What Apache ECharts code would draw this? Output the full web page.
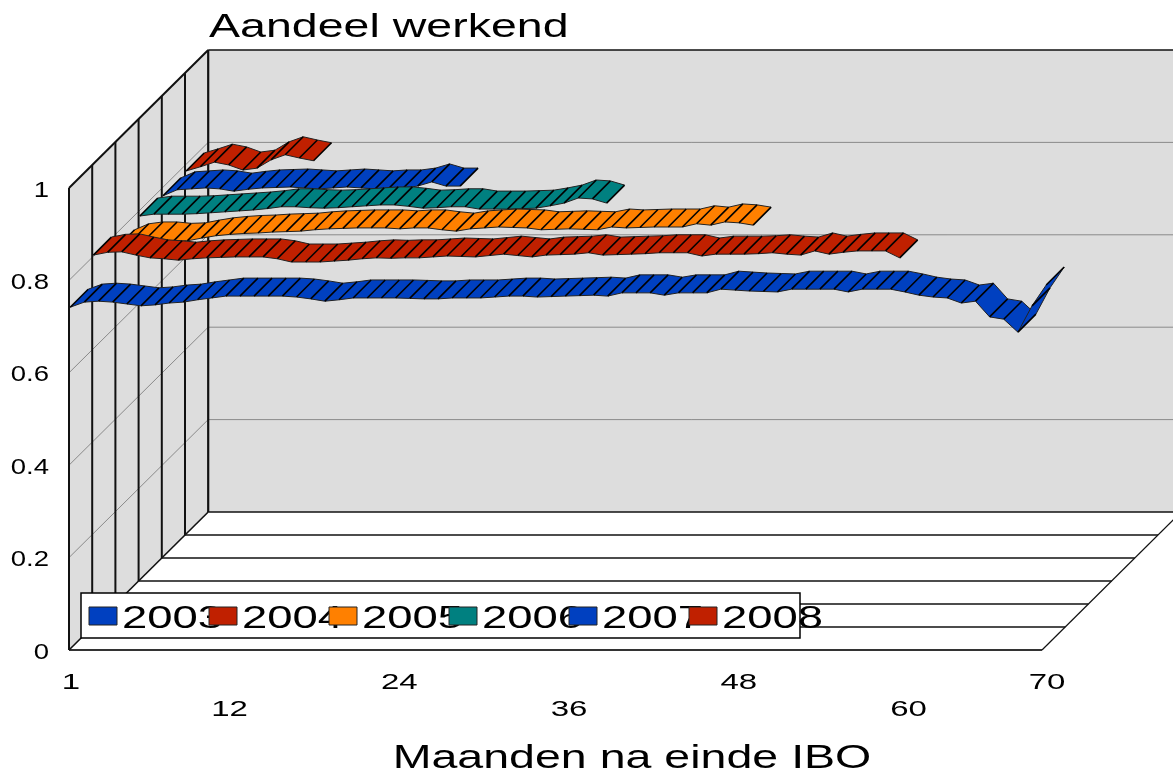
<!DOCTYPE html>
<html><head><meta charset="utf-8">
<style>html,body{margin:0;padding:0;background:#fff}#c{width:1173px;height:770px}</style>
<script src="https://cdn.jsdelivr.net/npm/echarts@6/dist/echarts.min.js"></script>
</head><body><div id="c"></div>
<script>
const years = ['2003','2004','2005','2006','2007','2008'];
const colors = ['#0040C0','#C02000','#FF8000','#008080','#0040C0','#C02000'];
const xTicks = [1,12,24,36,48,60,70];
const yTicks = [0,0.2,0.4,0.6,0.8,1];
const titleText = 'Aandeel werkend';
const xName = 'Maanden na einde IBO';

const v2003 = [.742,.753,.755,.753,.749,.745,.747,.751,.753,.758,.762,.766,.766,.766,.766,.766,.764,.760,.755,.758,.762,.762,.762,.762,.761,.760,.760,.762,.762,.762,.764,.766,.766,.764,.765,.766,.767,.768,.766,.773,.773,.773,.768,.773,.773,.773,.781,.779,.777,.776,.775,.781,.781,.781,.781,.775,.781,.781,.781,.775,.768,.764,.762,.751,.755,.721,.716,.688,.745,.790];
const v2004 = [.805,.811,.812,.805,.799,.797,.794,.797,.799,.800,.801,.801,.801,.797,.790,.790,.790,.792,.794,.797,.799,.798,.799,.799,.801,.803,.802,.801,.804,.807,.804,.801,.805,.806,.807,.810,.805,.806,.807,.808,.810,.810,.810,.803,.807,.807,.807,.808,.810,.807,.805,.814,.807,.811,.814,.814,.814,.799];
const v2005 = [.771,.784,.788,.788,.785,.786,.792,.797,.800,.802,.803,.805,.806,.807,.810,.812,.813,.814,.814,.814,.812,.814,.814,.810,.807,.812,.814,.816,.815,.814,.810,.811,.812,.811,.810,.816,.814,.815,.816,.816,.816,.823,.820,.827,.825,.820];
const v2006 = [.790,.794,.794,.794,.795,.797,.799,.801,.803,.806,.810,.810,.808,.807,.808,.810,.812,.814,.814,.811,.807,.808,.810,.810,.805,.805,.805,.806,.807,.812,.818,.829,.827,.818];
const v2007 = [.784,.797,.799,.801,.799,.794,.798,.801,.802,.803,.801,.799,.801,.803,.801,.799,.801,.801,.805,.814,.805,.805];
const v2008 = [.788,.797,.807,.801,.790,.794,.812,.823,.816,.810];
const valueLists = [v2003,v2004,v2005,v2006,v2007,v2008];

const DX = 23.2, DY = 23, RX = 18, RY = 18, INSET = 1.2;
const FONT = '"Liberation Sans", Arial, sans-serif';
const GRID = {left:69, right:128, top:188, bottom:120};

function line(a,b,stroke,w){return {type:'line',shape:{x1:a[0],y1:a[1],x2:b[0],y2:b[1]},style:{stroke:stroke,lineWidth:w,fill:null}};}

function renderFrame(params, api){
  const o = api.coord([1,0]), top = api.coord([1,1]), r = api.coord([70,0]);
  const n = years.length, W = 1180;
  const fr = r[0]-3;
  const bx = o[0]+DX*n, by = o[1]-DY*n, bt = top[1]-DY*n;
  const ch = [];
  ch.push({type:'polygon',shape:{points:[[bx,bt],[W+DX,bt],[W+DX,by],[bx,by]]},style:{fill:'#DDDDDD'}});
  ch.push({type:'polygon',shape:{points:[[o[0],top[1]],[bx,bt],[bx,by],[o[0],o[1]]]},style:{fill:'#DDDDDD'}});
  ch.push({type:'polygon',shape:{points:[[o[0],o[1]],[bx,by],[fr+DX*n,by],[fr,o[1]]]},style:{fill:'#FFFFFF'}});
  yTicks.forEach(t=>{
    if(t===0||t===1) return;
    const p = api.coord([1,t]);
    const back=[p[0]+DX*n,p[1]-DY*n];
    ch.push(line(p,back,'#8A8A8A',1));
    ch.push(line(back,[W+DX,back[1]],'#8A8A8A',1));
  });
  for(let k=0;k<=n;k++){
    const x=o[0]+DX*k, y=o[1]-DY*k, ty=top[1]-DY*k;
    ch.push(line([x,ty],[x,y],'#111',k===n?2.2:2));
    ch.push(line([x,y],[fr+DX*k,y],k===0?'#333':'#111',k===0?2.2:1.4));
  }
  ch.push(line([o[0],top[1]],[bx,bt],'#111',2));
  ch.push(line([bx,bt],[W+DX,bt],'#111',1.6));
  ch.push(line([o[0],o[1]],[bx,by],'#111',1.6));
  ch.push(line([fr,o[1]],[fr+DX*n,by],'#111',1.2));
  return {type:'group',children:ch};
}

function makeRibbon(k){
  const vals = valueLists[k];
  return {
    type:'custom', name:years[k], coordinateSystem:'cartesian2d', clip:false, silent:true,
    z:10+(years.length-k),
    data: vals.map((v,i)=>[i+1,v,i+1<vals.length?vals[i+1]:v]),
    renderItem(params,api){
      const m=api.value(0), a=api.coord([m,api.value(1)]);
      const ox=DX*k+INSET, oy=-DY*k;
      const f1=[a[0]+ox,a[1]+oy], b1=[f1[0]+RX,f1[1]-RY];
      if(m===vals.length){
        return {type:'group',children:[line(f1,b1,'#000',1.6)]};
      }
      const c=api.coord([m+1,api.value(2)]);
      const f2=[c[0]+ox,c[1]+oy], b2=[f2[0]+RX,f2[1]-RY];
      return {type:'group',children:[
        {type:'polygon',shape:{points:[f1,f2,b2,b1]},style:{fill:colors[k]}},
        line(f1,f2,'#222',1),
        line(b1,b2,'#222',1),
        line(f1,b1,'#000',1.6)
      ]};
    }
  };
}

const frameSeries = {type:'custom',name:'frame',coordinateSystem:'cartesian2d',clip:false,silent:true,z:1,data:[[1,0]],renderItem:renderFrame};

const yLabelSeries = {type:'custom',name:'yLabels',coordinateSystem:'cartesian2d',clip:false,silent:true,z:30,
  data:yTicks.map(t=>[1,t]),
  renderItem(p,api){
    const c=api.coord([1,api.value(1)]);
    return {type:'text',x:c[0]-20,y:c[1]+2.5,scaleX:1.25,style:{text:String(api.value(1)),font:'22px '+FONT,fill:'#000',align:'right',verticalAlign:'middle'}};
  }};
const xLabelSeries = {type:'custom',name:'xLabels',coordinateSystem:'cartesian2d',clip:false,silent:true,z:30,
  data:xTicks.map((t,i)=>[t,0,i]),
  renderItem(p,api){
    const c=api.coord([api.value(0),0]);
    const row=api.value(2)%2;
    const shift=api.value(0)===1?2:(api.value(0)===70?2:5);
    return {type:'text',x:c[0]+shift,y:c[1]+33+row*27,scaleX:1.5,style:{text:String(api.value(0)),font:'22px '+FONT,fill:'#000',align:'center',verticalAlign:'middle'}};
  }};

const graphics = [];
graphics.push({type:'text',x:209,y:28,z:50,scaleX:1.41,style:{text:titleText,font:'33px '+FONT,fill:'#000',align:'left',verticalAlign:'middle'}});
graphics.push({type:'text',x:632,y:759,z:50,scaleX:1.41,style:{text:xName,font:'33px '+FONT,fill:'#000',align:'center',verticalAlign:'middle'}});
graphics.push({type:'rect',z:60,shape:{x:81,y:593,width:719,height:45},style:{fill:'#fff',stroke:'#000',lineWidth:1.5}});
years.forEach((y,i)=>{
  const x=89+120*i;
  graphics.push({type:'text',z:61+2*i,x:x+33,y:619,scaleX:1.42,style:{text:y,font:'32px '+FONT,fill:'#000',align:'left',verticalAlign:'middle'}});
  graphics.push({type:'rect',z:62+2*i,shape:{x:x,y:607,width:28,height:18},style:{fill:colors[i],stroke:'#222',lineWidth:1}});
});

const chart = echarts.init(document.getElementById('c'),null,{renderer:'canvas'});
chart.setOption({
  animation:false,
  backgroundColor:'#fff',
  grid:GRID,
  xAxis:{type:'value',min:1,max:70,show:false},
  yAxis:{type:'value',min:0,max:1,interval:0.2,show:false},
  series:[frameSeries].concat(years.map((_,k)=>makeRibbon(k))).concat([yLabelSeries,xLabelSeries]),
  graphic:{elements:graphics}
});
</script></body></html>
